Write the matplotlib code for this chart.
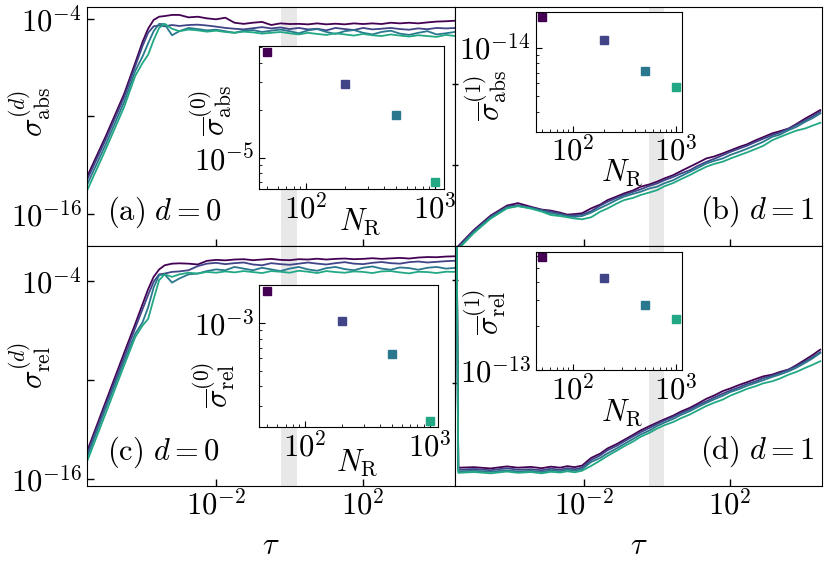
import matplotlib
matplotlib.use('Agg')
import matplotlib.pyplot as plt
import numpy as np
from matplotlib.ticker import NullFormatter, NullLocator

plt.rcParams['mathtext.fontset'] = 'cm'
plt.rcParams['font.family'] = 'DejaVu Serif'
plt.rcParams['font.size'] = 22

# log10(tau) sample points
log_tau_left = [-5.53, -5.0, -4.5, -4.2, -4.0, -3.85, -3.7, -3.55, -3.4, -3.2, -3.0,
                -2.75, -2.5, -2.25, -2.0, -1.75, -1.5, -1.25, -1.0, -0.75, -0.5, -0.25,
                0.0, 0.25, 0.5, 0.75, 1.0, 1.25, 1.5, 1.75, 2.0, 2.25, 2.5, 2.75, 3.0,
                3.25, 3.5, 3.75, 4.0, 4.25, 4.55]
log_tau_right = [-5.48, -5.43, -5.0, -4.55, -4.1, -3.8, -3.45, -3.15, -2.9, -2.65,
                 -2.45, -2.25, -2.05, -1.8, -1.55, -1.35, -1.1, -0.9, -0.65, -0.45,
                 -0.2, 0.0, 0.2, 0.45, 0.65, 0.9, 1.1, 1.35, 1.55, 1.8,
                 2.0, 2.25, 2.45, 2.7, 2.9, 3.15, 3.35, 3.6, 3.8, 4.05, 4.25, 4.46]

# (a) log10 sigma_abs, d=0, for N_R = 50, 200, 500, 1000
abs0_n50 = [-13.8, -11.2, -8.6, -6.7, -5.4, -4.6, -4.06, -3.86, -3.82, -3.75, -3.75,
            -3.9, -3.86, -3.96, -4.02, -3.92, -4.23, -4.30, -4.23, -4.18, -4.37, -4.27,
            -4.31, -4.30, -4.33, -4.27, -4.33, -4.29, -4.33, -4.27, -4.31, -4.27, -4.31,
            -4.23, -4.27, -4.23, -4.27, -4.21, -4.16, -4.14, -4.10]
abs0_n200 = [-14.0, -11.4, -8.8, -6.9, -5.65, -4.85, -4.45, -4.40, -4.45, -4.37, -4.43,
             -4.37, -4.35, -4.40, -4.47, -4.55, -4.60, -4.64, -4.57, -4.50, -4.58, -4.52,
             -4.62, -4.55, -4.64, -4.60, -4.70, -4.55, -4.62, -4.68, -4.55, -4.64, -4.60,
             -4.55, -4.62, -4.66, -4.58, -4.63, -4.55, -4.58, -4.55]
abs0_n500 = [-14.3, -11.7, -9.1, -7.2, -6.3, -5.5, -4.75, -4.30, -4.32, -5.0, -4.75,
             -4.55, -4.62, -4.70, -4.66, -4.75, -4.85, -4.72, -4.68, -4.80, -4.72, -4.65,
             -4.75, -4.88, -4.70, -4.62, -4.80, -4.92, -4.75, -4.68, -4.85, -4.95, -4.80,
             -4.72, -4.90, -4.98, -4.85, -4.75, -4.95, -4.88, -4.78]
abs0_n1000 = [-14.65, -12.0, -9.4, -7.5, -6.7, -6.2, -5.3, -4.55, -4.3, -4.6, -4.75,
              -4.65, -4.70, -4.78, -4.72, -4.80, -4.85, -4.78, -4.82, -4.90, -4.85, -4.80,
              -4.88, -4.95, -4.85, -4.92, -4.98, -4.88, -4.95, -5.02, -4.92, -5.0, -5.05,
              -4.95, -5.02, -5.08, -5.0, -5.05, -5.1, -4.98, -5.06]

# (b) log10 sigma_abs, d=1
abs1_n50 = [-17.3, -17.0, -16.2, -15.5, -15.0, -14.88, -15.06, -15.2, -15.25, -15.35,
            -15.45, -15.42, -15.38, -15.14, -14.95, -14.73, -14.55, -14.40, -14.25, -14.07,
            -13.95, -13.82, -13.66, -13.49, -13.30, -13.08, -12.9, -12.67, -12.58, -12.42,
            -12.28, -12.10, -11.98, -11.77, -11.62, -11.43, -11.33, -11.19, -10.98, -10.70,
            -10.50, -10.28]
abs1_n200 = [-17.3, -17.05, -16.25, -15.55, -15.05, -14.98, -15.1, -15.22, -15.3, -15.4,
             -15.5, -15.48, -15.45, -15.28, -15.0, -14.81, -14.62, -14.48, -14.32, -14.2,
             -14.02, -13.91, -13.75, -13.58, -13.42, -13.25, -13.05, -12.84, -12.7, -12.51,
             -12.35, -12.18, -12.05, -11.85, -11.7, -11.52, -11.4, -11.19, -11.02, -10.78,
             -10.6, -10.37]
abs1_n500 = [-17.3, -17.1, -16.3, -15.6, -15.1, -15.02, -15.12, -15.26, -15.38, -15.45,
             -15.52, -15.56, -15.52, -15.35, -15.12, -14.95, -14.72, -14.56, -14.42, -14.32,
             -14.15, -14.07, -13.9, -13.74, -13.55, -13.33, -13.15, -12.92, -12.8, -12.67,
             -12.5, -12.34, -12.2, -12.01, -11.85, -11.6, -11.5, -11.27, -11.12, -10.86,
             -10.68, -10.45]
abs1_n1000 = [-17.3, -17.15, -16.35, -15.65, -15.14, -15.03, -15.15, -15.3, -15.47, -15.52,
              -15.58, -15.64, -15.68, -15.58, -15.3, -15.14, -14.9, -14.73, -14.62, -14.48,
              -14.35, -14.24, -14.05, -13.88, -13.7, -13.49, -13.3, -13.08, -12.95, -12.83,
              -12.68, -12.51, -12.38, -12.2, -12.05, -11.77, -11.62, -11.44, -11.3, -11.19,
              -11.05, -10.91]

# (c) log10 sigma_rel, d=0
rel0_n50 = [-14.44, -11.3, -8.35, -6.6, -5.4, -4.5, -3.75, -3.3, -3.05, -2.95, -2.93,
            -2.95, -3.0, -2.78, -2.72, -2.75, -2.70, -2.68, -2.74, -2.70, -2.66, -2.72,
            -2.74, -2.68, -2.70, -2.65, -2.70, -2.66, -2.64, -2.68, -2.66, -2.62, -2.66,
            -2.63, -2.60, -2.64, -2.58, -2.55, -2.56, -2.52, -2.50]
rel0_n200 = [-14.6, -11.5, -8.6, -6.85, -5.7, -4.85, -4.05, -3.6, -3.55, -3.45, -3.42,
             -3.35, -3.1, -2.95, -2.90, -2.98, -2.92, -2.88, -3.0, -3.05, -2.92, -2.98,
             -3.02, -2.95, -2.88, -2.95, -3.0, -2.92, -2.86, -2.95, -2.98, -2.90, -2.85,
             -2.92, -2.95, -2.86, -2.82, -2.88, -2.84, -2.80, -2.77]
rel0_n500 = [-14.8, -11.7, -8.85, -7.2, -6.5, -5.6, -4.4, -3.65, -3.6, -4.1, -3.85,
             -3.6, -3.55, -3.4, -3.3, -3.35, -3.15, -3.25, -3.35, -3.2, -3.3, -3.4,
             -3.25, -3.15, -3.3, -3.38, -3.22, -3.15, -3.28, -3.35, -3.2, -3.12, -3.25,
             -3.32, -3.18, -3.22, -3.32, -3.2, -3.15, -3.25, -3.2]
rel0_n1000 = [-15.05, -12.0, -9.1, -7.4, -6.7, -6.3, -5.1, -3.95, -3.6, -3.75, -3.6,
              -3.5, -3.55, -3.45, -3.5, -3.42, -3.48, -3.4, -3.46, -3.52, -3.4, -3.44,
              -3.5, -3.38, -3.44, -3.52, -3.4, -3.46, -3.5, -3.42, -3.45, -3.52, -3.42,
              -3.4, -3.48, -3.54, -3.44, -3.46, -3.52, -3.44, -3.45]

# (d) log10 sigma_rel, d=1
rel1_n50 = [-4.0, -14.30, -14.28, -14.33, -14.25, -14.30, -14.27, -14.32, -14.26, -14.30,
            -14.24, -14.28, -14.22, -13.92, -13.75, -13.55, -13.38, -13.22, -13.02, -12.85,
            -12.68, -12.55, -12.42, -12.27, -12.12, -11.97, -11.82, -11.62, -11.5, -11.32,
            -11.22, -11.08, -10.98, -10.85, -10.75, -10.68, -10.58, -10.48, -10.32, -10.10,
            -9.92, -9.71]
rel1_n200 = [-4.0, -14.38, -14.35, -14.40, -14.32, -14.38, -14.36, -14.40, -14.34, -14.38,
             -14.32, -14.36, -14.30, -14.0, -13.82, -13.62, -13.45, -13.28, -13.08, -12.92,
             -12.75, -12.60, -12.47, -12.32, -12.18, -12.03, -11.88, -11.72, -11.58, -11.42,
             -11.30, -11.17, -11.05, -10.94, -10.82, -10.72, -10.62, -10.48, -10.36, -10.16,
             -10.0, -9.81]
rel1_n500 = [-4.0, -14.44, -14.42, -14.46, -14.40, -14.45, -14.42, -14.47, -14.40, -14.44,
             -14.38, -14.42, -14.36, -14.08, -13.92, -13.74, -13.55, -13.38, -13.18, -13.01,
             -12.85, -12.68, -12.55, -12.40, -12.25, -12.10, -11.95, -11.78, -11.65, -11.50,
             -11.36, -11.24, -11.12, -11.0, -10.9, -10.77, -10.68, -10.55, -10.42, -10.22,
             -10.05, -9.84]
rel1_n1000 = [-4.0, -14.50, -14.47, -14.52, -14.45, -14.50, -14.47, -14.52, -14.46, -14.49,
              -14.44, -14.48, -14.42, -14.23, -14.02, -13.84, -13.64, -13.47, -13.28, -13.10,
              -12.94, -12.78, -12.65, -12.52, -12.38, -12.23, -12.08, -11.90, -11.78, -11.65,
              -11.50, -11.36, -11.24, -11.13, -11.02, -10.94, -10.84, -10.68, -10.58, -10.42,
              -10.30, -10.16]

# inset data: time-averaged errors vs number of reservoir nodes
n_r = [50, 200, 500, 1000]
mean_abs0 = [4.65e-5, 2.95e-5, 1.86e-5, 7.0e-6]
mean_abs1 = [1.556e-14, 1.11e-14, 7.18e-15, 5.67e-15]
mean_rel0 = [1.59e-3, 1.03e-3, 6.4e-4, 2.41e-4]
mean_rel1 = [5.93e-13, 4.27e-13, 2.80e-13, 2.22e-13]

band = (0.6, 1.55)
colors = plt.cm.viridis(np.arange(4) / 5)


def draw_panel(ax, log_tau, series, ylim, yticks, ylabels, tag, tag_right):
    tau = 10 ** np.array(log_tau)
    ax.axvspan(*band, color='0.91', lw=0, zorder=0)
    for s, c in zip(series, colors):
        ax.plot(tau, 10 ** np.array(s), color=c, lw=1.3)
    ax.set_xscale('log')
    ax.set_yscale('log')
    ax.set_xlim(10 ** -5.52, 10 ** 4.5)
    ax.set_ylim(*ylim)
    ax.set_xticks([1e-2, 1e2], [r'$10^{-2}$', r'$10^{2}$'])
    ax.set_yticks(yticks, ylabels)
    ax.xaxis.set_minor_locator(NullLocator())
    ax.yaxis.set_minor_locator(NullLocator())
    ax.tick_params(direction='in', length=5, width=1)
    if tag_right:
        ax.text(0.982, 0.07, tag, transform=ax.transAxes, ha='right', va='bottom')
    else:
        ax.text(0.055, 0.065, tag, transform=ax.transAxes, ha='left', va='bottom')


def draw_inset(rect, values, ylim, ytick, ytick_label, ylabel, ylab_xy, xlab_xy):
    ins = fig.add_axes(rect)
    for n, v, c in zip(n_r, values, colors):
        ins.plot(n, v, 's', color=c, ms=5.5)
    ins.set_xscale('log')
    ins.set_yscale('log')
    if ylim is not None:
        ins.set_ylim(*ylim)
    ins.set_xticks([1e2, 1e3], [r'$10^{2}$', r'$10^{3}$'])
    ins.set_yticks([ytick], [ytick_label])
    ins.xaxis.set_minor_formatter(NullFormatter())
    ins.yaxis.set_minor_formatter(NullFormatter())
    ins.tick_params(which='major', direction='in', length=4, width=0.8)
    ins.tick_params(which='minor', direction='in', length=2, width=0.6)
    ins.set_ylabel(ylabel)
    ins.yaxis.set_label_coords(*ylab_xy)
    ins.set_xlabel(r'$N_{\mathrm{R}}$')
    ins.xaxis.set_label_coords(*xlab_xy)
    return ins


fig = plt.figure(figsize=(8.3, 5.65), dpi=100)

ax_a = fig.add_axes([0.1045, 0.5646, 0.4437, 0.4225])
ax_b = fig.add_axes([0.5482, 0.5646, 0.4418, 0.4225])
ax_c = fig.add_axes([0.1045, 0.1404, 0.4437, 0.4242])
ax_d = fig.add_axes([0.5482, 0.1404, 0.4418, 0.4242])

draw_panel(ax_a, log_tau_left, [abs0_n50, abs0_n200, abs0_n500, abs0_n1000],
           (10 ** -17.97, 10 ** -3.28), [1e-16, 1e-10, 1e-4],
           [r'$10^{-16}$', '', r'$10^{-4}$'], r'$\mathrm{(a)}\ d=0$', False)
draw_panel(ax_b, log_tau_right, [abs1_n50, abs1_n200, abs1_n500, abs1_n1000],
           (10 ** -17.0, 10 ** -5.2), [1e-13, 1e-9], ['', ''],
           r'$\mathrm{(b)}\ d=1$', True)
draw_panel(ax_c, log_tau_left, [rel0_n50, rel0_n200, rel0_n500, rel0_n1000],
           (10 ** -16.41, 10 ** -1.88), [1e-16, 1e-10, 1e-4],
           [r'$10^{-16}$', '', r'$10^{-4}$'], r'$\mathrm{(c)}\ d=0$', False)
draw_panel(ax_d, log_tau_right, [rel1_n50, rel1_n200, rel1_n500, rel1_n1000],
           (1e-15, 10 ** -5.68), [1e-11, 1e-7], ['', ''],
           r'$\mathrm{(d)}\ d=1$', True)

for ax in (ax_a, ax_b):
    ax.tick_params(labelbottom=False)
for ax in (ax_b, ax_d):
    ax.tick_params(axis='y', direction='inout', length=5)
for ax in (ax_c, ax_d):
    ax.set_xlabel(r'$\tau$', labelpad=6)

ax_a.set_ylabel(r'$\sigma^{(d)}_{\mathrm{abs}}$')
ax_a.yaxis.set_label_coords(-0.092, 0.56)
ax_c.set_ylabel(r'$\sigma^{(d)}_{\mathrm{rel}}$')
ax_c.yaxis.set_label_coords(-0.092, 0.5)

draw_inset([0.3120, 0.6655, 0.2225, 0.2536], mean_abs0, None, 1e-5, r'$10^{-5}$',
           r'$\overline{\sigma}^{(0)}_{\mathrm{abs}}$', (-0.135, 0.55), (0.55, -0.12))
draw_inset([0.6454, 0.7669, 0.1766, 0.2113], mean_abs1, (3e-15, 1.66e-14), 1e-14,
           r'$10^{-14}$', r'$\overline{\sigma}^{(1)}_{\mathrm{abs}}$',
           (-0.18, 0.3), (0.59, -0.21))
draw_inset([0.3124, 0.2437, 0.2149, 0.2519], mean_rel0, None, 1e-3, r'$10^{-3}$',
           r'$\overline{\sigma}^{(0)}_{\mathrm{rel}}$', (-0.125, 0.3), (0.55, -0.14))
draw_inset([0.6454, 0.3451, 0.1766, 0.2094], mean_rel1, (1e-13, 6.45e-13), 1e-13,
           r'$10^{-13}$', r'$\overline{\sigma}^{(1)}_{\mathrm{rel}}$',
           (-0.19, 0.49), (0.59, -0.23))

plt.savefig('out.png', dpi=100)
